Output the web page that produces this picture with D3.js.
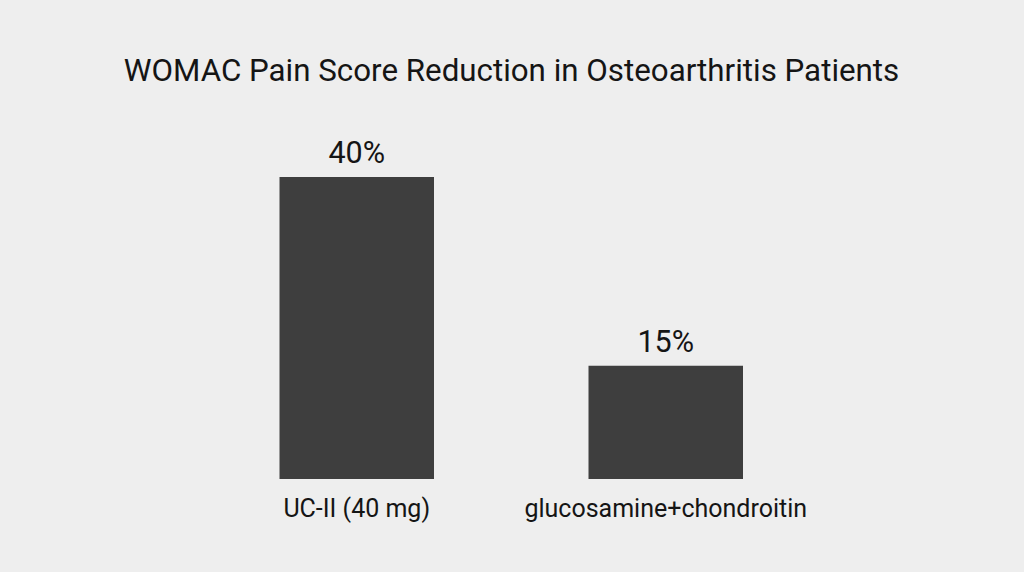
<!DOCTYPE html>
<html>
<head>
<meta charset="utf-8">
<script src="https://cdn.jsdelivr.net/npm/d3@7"></script>
<style>
html,body{margin:0;padding:0;background:#eeeeee;}
svg{display:block;font-family:Roboto, "Noto Sans", sans-serif;}
</style>
</head>
<body>
<svg id="chart" width="1024" height="572"></svg>
<script>
const title = "WOMAC Pain Score Reduction in Osteoarthritis Patients";
const categories = ["UC-II (40 mg)", "glucosamine+chondroitin"];
const values = [40, 15];
const valueLabels = ["40%", "15%"];

const svg = d3.select("#chart");
const W = 1024, H = 572;
svg.append("rect").attr("width", W).attr("height", H).attr("fill", "#eeeeee");

const x = d3.scaleBand().domain(categories).range([125, 897.5]).paddingInner(0.5).paddingOuter(0.5);
const y = d3.scaleLinear().domain([0, 40]).range([479, 177]);

svg.append("text")
  .attr("x", 511.5).attr("y", 81)
  .attr("text-anchor", "middle")
  .attr("font-size", 31.3)
  .attr("fill", "#151515")
  .text(title);

const g = svg.append("g");
g.selectAll("rect.bar").data(categories).join("rect")
  .attr("class", "bar")
  .attr("x", d => x(d))
  .attr("width", x.bandwidth())
  .attr("y", (d, i) => y(values[i]))
  .attr("height", (d, i) => y(0) - y(values[i]))
  .attr("fill", "#3e3e3e");

g.selectAll("text.val").data(categories).join("text")
  .attr("class", "val")
  .attr("x", d => x(d) + x.bandwidth() / 2)
  .attr("y", (d, i) => y(values[i]) - 14)
  .attr("text-anchor", "middle")
  .attr("font-size", 30.5)
  .attr("fill", "#151515")
  .text((d, i) => valueLabels[i]);

const xAxis = d3.axisBottom(x).tickSize(0).tickPadding(0);
const ax = svg.append("g").attr("transform", `translate(0,${y(0)})`).call(xAxis);
ax.select(".domain").remove();
ax.selectAll("text")
  .attr("dy", null)
  .attr("y", 38)
  .attr("font-size", 25)
  .attr("font-family", "Roboto, 'Noto Sans', sans-serif")
  .attr("fill", "#151515");
</script>
</body>
</html>
